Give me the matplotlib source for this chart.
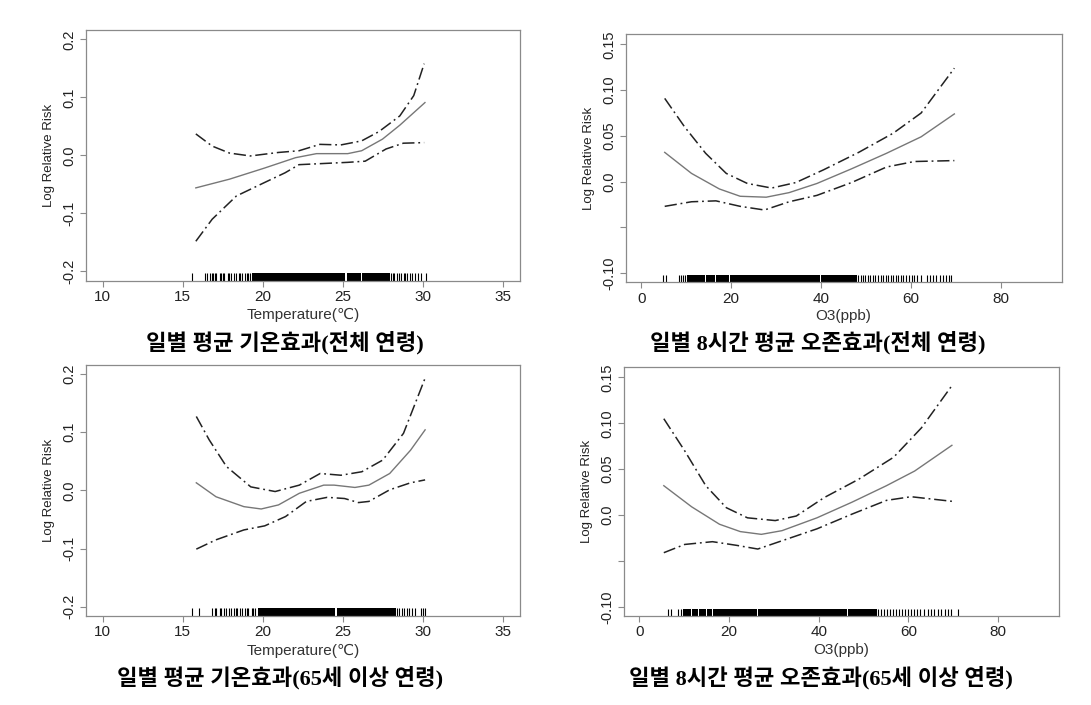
import matplotlib
matplotlib.use("Agg")
import matplotlib.pyplot as plt

# ---- data (GAM smooths with +/- 2 SE bands) ----

# daily mean temperature, all ages
temp_all_x_fit = [15.82, 17.92, 20.09, 22.04, 23.35, 25.3, 26.17, 27.47, 28.55, 30.12]
temp_all_fit = [-0.056, -0.041, -0.022, -0.004, 0.003, 0.003, 0.008, 0.028, 0.052, 0.091]
temp_all_x_hi = [15.82, 16.84, 17.92, 19.22, 20.96, 22.26, 23.56, 24.87, 26.17, 27.25, 28.55, 29.42, 30.07]
temp_all_hi = [0.037, 0.016, 0.004, -0.001, 0.005, 0.008, 0.019, 0.018, 0.025, 0.041, 0.068, 0.103, 0.158]
temp_all_x_lo = [15.82, 16.84, 18.35, 20.09, 21.39, 22.26, 23.78, 25.3, 26.39, 27.69, 28.77, 30.07]
temp_all_lo = [-0.148, -0.110, -0.070, -0.047, -0.030, -0.016, -0.014, -0.012, -0.010, 0.011, 0.021, 0.022]
temp_all_rug = [15.6, 16.4, 16.5, 16.7, 16.8, 16.9, 17.0, 17.1, 17.3, 17.4, 17.5, 17.6, 17.8, 17.9,
                18.0, 18.2, 18.3, 18.5, 18.6, 18.7, 18.9, 19.0, 19.1, 19.2, 28.0, 28.1, 28.2, 28.4,
                28.5, 28.6, 28.8, 28.9, 29.0, 29.2, 29.3, 29.5, 29.7, 29.9, 30.2]
temp_all_dense = [(19.3, 25.15), (25.25, 26.1), (26.2, 27.95)]

# daily 8h mean ozone, all ages
o3_all_x_fit = [5.19, 11.16, 17.36, 22.0, 27.8, 32.9, 39.1, 46.8, 54.6, 62.3, 69.7]
o3_all_fit = [0.032, 0.009, -0.008, -0.016, -0.017, -0.012, -0.002, 0.014, 0.031, 0.049, 0.074]
o3_all_x_hi = [5.19, 9.6, 14.3, 18.9, 23.6, 29.0, 34.4, 40.6, 48.4, 56.1, 62.3, 69.7]
o3_all_hi = [0.091, 0.060, 0.031, 0.009, -0.002, -0.007, -0.001, 0.013, 0.032, 0.053, 0.075, 0.124]
o3_all_x_lo = [5.19, 11.16, 16.6, 22.0, 27.4, 32.9, 39.1, 46.8, 54.6, 60.8, 69.7]
o3_all_lo = [-0.027, -0.022, -0.021, -0.027, -0.031, -0.022, -0.015, -0.001, 0.016, 0.022, 0.023]
o3_all_rug = [4.8, 5.5, 8.4, 8.8, 9.3, 9.7, 48.3, 48.8, 49.3, 49.9, 50.4, 51.0, 51.6, 52.1, 52.7,
              53.3, 53.8, 54.4, 55.0, 55.5, 56.1, 56.7, 57.2, 57.8, 58.3, 58.9, 59.5, 60.2, 60.8,
              61.3, 62.2, 63.7, 64.3, 65.0, 65.7, 66.4, 67.1, 67.8, 68.4, 68.9]
o3_all_dense = [(10.2, 14.2), (14.4, 16.5), (16.7, 19.6), (19.8, 39.7), (39.9, 48.0)]

# daily mean temperature, aged 65+
temp_old_x_fit = [15.85, 17.08, 18.82, 19.9, 20.98, 22.28, 23.8, 24.45, 25.75, 26.62, 27.92, 29.22, 30.13]
temp_old_fit = [0.013, -0.011, -0.028, -0.032, -0.025, -0.005, 0.009, 0.009, 0.005, 0.009, 0.029, 0.069, 0.104]
temp_old_x_hi = [15.85, 16.65, 17.73, 19.25, 20.77, 22.28, 23.58, 24.88, 26.18, 27.48, 28.78, 30.13]
temp_old_hi = [0.127, 0.087, 0.041, 0.006, -0.002, 0.009, 0.029, 0.026, 0.032, 0.052, 0.098, 0.193]
temp_old_x_lo = [15.85, 17.08, 18.82, 20.12, 21.42, 22.72, 24.02, 25.1, 25.97, 26.62, 27.92, 29.22, 30.13]
temp_old_lo = [-0.101, -0.085, -0.068, -0.061, -0.045, -0.019, -0.012, -0.014, -0.021, -0.019, 0.001, 0.013, 0.018]
temp_old_rug = [15.6, 16.0, 16.8, 17.0, 17.1, 17.3, 17.4, 17.6, 17.7, 17.9, 18.0, 18.2, 18.3, 18.4,
                18.6, 18.7, 18.9, 19.0, 19.1, 19.3, 19.4, 19.5, 28.4, 28.5, 28.7, 28.8, 29.0, 29.1,
                29.3, 29.5, 29.9, 30.0, 30.1]
temp_old_dense = [(19.7, 24.5), (24.6, 28.3)]

# daily 8h mean ozone, aged 65+
o3_old_x_fit = [5.44, 11.65, 17.86, 22.5, 27.2, 31.8, 39.6, 47.4, 55.1, 61.4, 69.7]
o3_old_fit = [0.032, 0.009, -0.010, -0.018, -0.021, -0.017, -0.003, 0.014, 0.032, 0.048, 0.076]
o3_old_x_hi = [5.44, 10.1, 14.8, 19.4, 24.1, 30.3, 35.0, 41.2, 48.9, 56.7, 62.9, 69.7]
o3_old_hi = [0.105, 0.070, 0.032, 0.008, -0.003, -0.006, -0.001, 0.019, 0.039, 0.063, 0.095, 0.141]
o3_old_x_lo = [5.44, 10.1, 16.3, 21.7, 26.4, 31.8, 39.6, 47.4, 55.1, 60.6, 69.7]
o3_old_lo = [-0.041, -0.032, -0.029, -0.033, -0.037, -0.028, -0.015, 0.001, 0.016, 0.020, 0.015]
o3_old_rug = [6.4, 7.0, 8.5, 9.3, 53.3, 53.9, 54.6, 55.3, 56.0, 56.6, 57.3, 57.9, 58.6, 59.2, 59.9,
              60.5, 61.2, 61.9, 62.5, 63.4, 64.3, 65.0, 65.8, 66.5, 67.3, 68.1, 68.9, 69.5, 71.1]
o3_old_dense = [(9.7, 11.5), (11.7, 13.1), (13.3, 14.8), (15.0, 16.2), (16.4, 26.3), (26.5, 46.3), (46.5, 52.9)]

temp_ticks = [10, 15, 20, 25, 30, 35]
temp_yticks = [-0.2, -0.1, 0.0, 0.1, 0.2]
temp_ylabels = ["-0.2", "-0.1", "0.0", "0.1", "0.2"]
o3_ticks = [0, 20, 40, 60, 80]
o3_yticks = [-0.10, -0.05, 0.0, 0.05, 0.10, 0.15]
o3_ylabels = ["-0.10", "", "0.0", "0.05", "0.10", "0.15"]

captions = ["일별 평균 기온효과(전체 연령)", "일별 8시간 평균 오존효과(전체 연령)",
            "일별 평균 기온효과(65세 이상 연령)", "일별 8시간 평균 오존효과(65세 이상 연령)"]

SANS = ["Liberation Sans", "DejaVu Sans"]
FRAME = "#8a8a8a"
DASHDOT = (0, (8, 2.5, 1.2, 2.5))


def draw_panel(ax, fit, hi, lo, rug, dense, xlim, ylim, xticks, yticks, ylabels, xlabel):
    ax.plot(fit[0], fit[1], color="#777777", lw=1.0)
    ax.plot(hi[0], hi[1], color="#222222", lw=1.1, linestyle=DASHDOT)
    ax.plot(lo[0], lo[1], color="#222222", lw=1.1, linestyle=DASHDOT)

    # rug along the bottom of the box
    ax.vlines(rug, 0, 0.03, transform=ax.get_xaxis_transform(), color="black", lw=0.8)
    for a, b in dense:
        ax.axvspan(a, b, ymin=0, ymax=0.03, color="black", lw=0)

    ax.set_xlim(*xlim)
    ax.set_ylim(*ylim)
    ax.set_xticks(xticks)
    ax.set_xticklabels([str(t) for t in xticks], family=SANS, fontsize=11, color="#222222")
    ax.set_yticks(yticks)
    ax.set_yticklabels(ylabels, family=SANS, fontsize=10.5, color="#222222",
                       rotation=90, va="center")
    ax.tick_params(direction="out", length=4.3, width=0.8, color=FRAME)
    ax.tick_params(axis="x", pad=2.5)
    ax.tick_params(axis="y", pad=2.5)
    for s in ax.spines.values():
        s.set_color(FRAME)
        s.set_linewidth(0.9)

    ax.set_xlabel(xlabel, family=SANS, fontsize=11, color="#333333")
    ax.xaxis.label.set_va("center")
    ax.xaxis.set_label_coords(0.5, -0.137)
    ax.set_ylabel("Log Relative Risk", family=SANS, fontsize=9.5, color="#222222")
    ax.yaxis.label.set_va("center")
    ax.yaxis.set_label_coords(-0.085, 0.5)


fig = plt.figure(figsize=(10.91, 7.05), dpi=100)

ax1 = fig.add_axes([0.0786, 0.6018, 0.398, 0.3556])
ax2 = fig.add_axes([0.5735, 0.5996, 0.3996, 0.3517])
ax3 = fig.add_axes([0.0786, 0.1262, 0.398, 0.3565])
ax4 = fig.add_axes([0.5717, 0.1262, 0.399, 0.3528])

draw_panel(ax1, (temp_all_x_fit, temp_all_fit), (temp_all_x_hi, temp_all_hi), (temp_all_x_lo, temp_all_lo),
           temp_all_rug, temp_all_dense, (8.95, 36.05), (-0.216, 0.216),
           temp_ticks, temp_yticks, temp_ylabels, "Temperature(℃)")
draw_panel(ax2, (o3_all_x_fit, o3_all_fit), (o3_all_x_hi, o3_all_hi), (o3_all_x_lo, o3_all_lo),
           o3_all_rug, o3_all_dense, (-3.5, 93.6), (-0.11, 0.161),
           o3_ticks, o3_yticks, o3_ylabels, "O3(ppb)")
draw_panel(ax3, (temp_old_x_fit, temp_old_fit), (temp_old_x_hi, temp_old_hi), (temp_old_x_lo, temp_old_lo),
           temp_old_rug, temp_old_dense, (8.95, 36.05), (-0.216, 0.216),
           temp_ticks, temp_yticks, temp_ylabels, "Temperature(℃)")
draw_panel(ax4, (o3_old_x_fit, o3_old_fit), (o3_old_x_hi, o3_old_hi), (o3_old_x_lo, o3_old_lo),
           o3_old_rug, o3_old_dense, (-3.5, 93.6), (-0.11, 0.161),
           o3_ticks, o3_yticks, o3_ylabels, "O3(ppb)")

# captions under each panel (pixel centres from the reference)
cap_pos = [(285, 343), (818, 343), (280, 678), (821, 678)]
for text, (px, py) in zip(captions, cap_pos):
    fig.text(px / 1091, 1 - py / 705, text, ha="center", va="center", fontsize=16,
             fontweight="bold", family=["Liberation Serif", "Noto Sans CJK KR"])

fig.savefig("out.png", dpi=100)
